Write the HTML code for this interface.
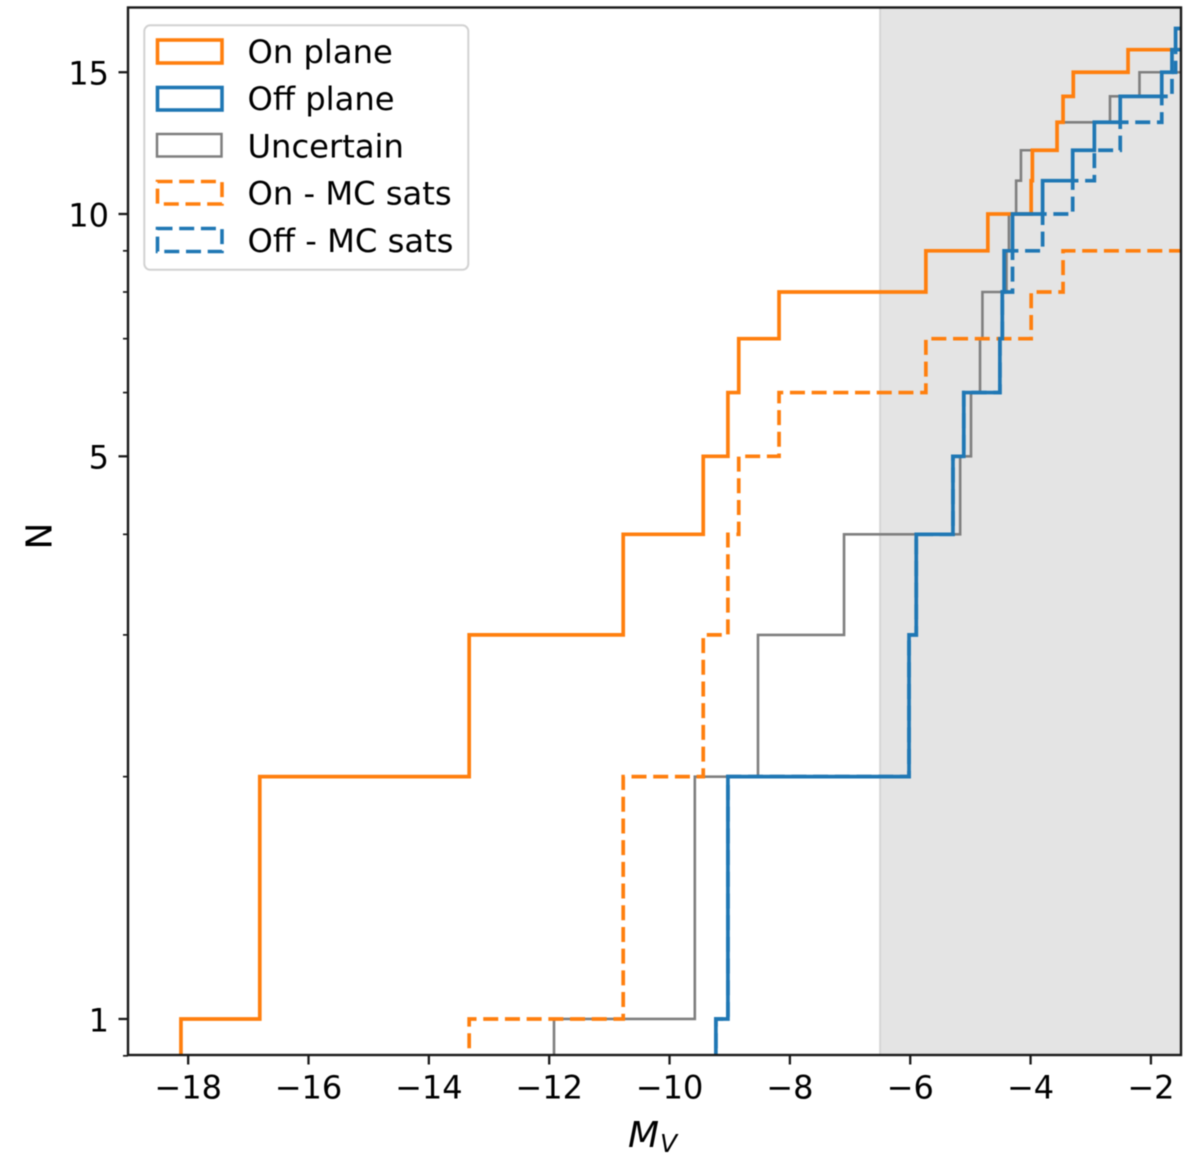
<!DOCTYPE html>
<html lang="en">
<head>
<meta charset="utf-8">
<title>Cumulative satellite luminosity function</title>
<style>
html,body{margin:0;padding:0;background:#fff;}
svg{display:block;font-family:"DejaVu Sans","Liberation Sans",sans-serif;filter:blur(0.4px);}
</style>
</head>
<body>
<svg id="chart" width="1200" height="1164" viewBox="0 0 1200 1164" xmlns="http://www.w3.org/2000/svg">
  <defs>
    <clipPath id="axes-clip"><rect x="128" y="7.5" width="1053" height="1047.5"></rect></clipPath>
  </defs>
  <rect x="0" y="0" width="1200" height="1164" fill="#ffffff"></rect>
  <g id="span-layer"></g>
  <g id="series-layer" clip-path="url(#axes-clip)"></g>
  <g id="tick-layer"></g>
  <rect x="128" y="7.5" width="1053" height="1047.5" fill="none" stroke="#1a1a1a" stroke-width="2.4"></rect>
  <text x="628" y="1147" font-size="36" font-style="italic" fill="#000">M</text>
  <text x="660" y="1152" font-size="25" font-style="italic" fill="#000">V</text>
  <text transform="translate(51.5,536) rotate(-90)" text-anchor="middle" font-size="36" fill="#000">N</text>
  <g>
    <rect x="144.3" y="25.3" width="324" height="244.5" rx="6" ry="6" fill="#ffffff" stroke="#d2d2d2" stroke-width="2"></rect>
    <g>
      <rect x="157.5" y="40" width="64.5" height="23" fill="none" stroke="#ff7f0e" stroke-width="3.6"></rect>
      <text x="247.5" y="63" font-size="32.2" fill="#000">On plane</text>
    </g>
    <g>
      <rect x="157.5" y="87.5" width="64.5" height="22.5" fill="none" stroke="#1f77b4" stroke-width="3.6"></rect>
      <text x="247.5" y="110" font-size="32.2" fill="#000">Off plane</text>
    </g>
    <g>
      <rect x="157" y="134" width="64.5" height="22.5" fill="none" stroke="#7f7f7f" stroke-width="2.5"></rect>
      <text x="247.5" y="157.5" font-size="32.2" fill="#000">Uncertain</text>
    </g>
    <g>
      <rect x="157.5" y="181.5" width="64.5" height="22.5" fill="none" stroke="#ff7f0e" stroke-width="3.6" stroke-dasharray="15 6.7"></rect>
      <text x="247.5" y="204.5" font-size="32.2" fill="#000">On - MC sats</text>
    </g>
    <g>
      <rect x="157.5" y="228.5" width="64.5" height="23" fill="none" stroke="#1f77b4" stroke-width="3.6" stroke-dasharray="15 6.7"></rect>
      <text x="247.5" y="252" font-size="32.2" fill="#000">Off - MC sats</text>
    </g>
  </g>
</svg>
<script>
// Absolute magnitudes at which each cumulative count rises by one
const onPlane = [-18.12,-16.81,-13.33,-10.77,-9.44,-9.03,-8.85,-8.18,-5.74,-4.71,-3.99,-3.97,-3.56,-3.46,-3.29,-2.38];
const offPlane = [-9.23,-9.03,-6.02,-5.90,-5.29,-5.11,-4.51,-4.47,-4.44,-4.30,-3.80,-3.30,-2.94,-2.51,-1.82,-1.65,-1.59];
const uncertain = [-11.92,-9.58,-8.53,-7.10,-5.17,-4.99,-4.84,-4.80,-4.40,-4.36,-4.24,-4.16,-3.56,-2.68,-2.19];
const onMcSats = [-13.33,-10.77,-9.44,-9.03,-8.85,-8.18,-5.74,-3.99,-3.46];
const offMcSats = [-9.23,-9.03,-6.02,-5.90,-5.29,-5.11,-4.51,-4.47,-4.30,-3.80,-3.30,-2.94,-2.51,-1.82,-1.65,-1.59];
const xTicks = [-18,-16,-14,-12,-10,-8,-6,-4,-2];
const yMajorTicks = [1,5,10,15];
const yMinorTicks = [0.9,2,3,4,6,7,8,9];
const xDomain = [-19,-1.5];
const yDomain = [0.9,18];
const completenessLimit = -6.5;

const NS = 'http://www.w3.org/2000/svg';
const plotLeft = 128, plotRight = 1181, plotTop = 7.5, plotBottom = 1055;
const scaleTop = 8.5, scaleBottom = 1055.8;

function xScale(v){
  return plotLeft + (v - xDomain[0]) / (xDomain[1] - xDomain[0]) * (plotRight - plotLeft);
}
function yScale(n){
  return scaleBottom - (Math.log10(n) - Math.log10(yDomain[0])) / (Math.log10(yDomain[1]) - Math.log10(yDomain[0])) * (scaleBottom - scaleTop);
}
function stepPath(values){
  let d = 'M' + xScale(values[0]).toFixed(2) + ' ' + plotBottom;
  values.forEach(function(v, i){
    d += 'V' + yScale(i + 1).toFixed(2);
    const next = i + 1 < values.length ? values[i + 1] : xDomain[1];
    d += 'H' + xScale(next).toFixed(2);
  });
  return d;
}

const spanLayer = document.getElementById('span-layer');
const seriesLayer = document.getElementById('series-layer');
const tickLayer = document.getElementById('tick-layer');

const span = document.createElementNS(NS, 'rect');


span.setAttribute('x', xScale(completenessLimit));
span.setAttribute('y', plotTop);
span.setAttribute('width', plotRight - xScale(completenessLimit));
span.setAttribute('height', plotBottom - plotTop);
span.setAttribute('fill', '#e4e4e4');
spanLayer.appendChild(span);

const spanEdge = document.createElementNS(NS, 'line');


spanEdge.setAttribute('x1', xScale(completenessLimit));
spanEdge.setAttribute('x2', xScale(completenessLimit));
spanEdge.setAttribute('y1', plotTop);
spanEdge.setAttribute('y2', plotBottom);
spanEdge.setAttribute('stroke', '#d6d6d6');
spanEdge.setAttribute('stroke-width', '2');
spanLayer.appendChild(spanEdge);

function addSeries(values, name, color, width, dashed){
  const p = document.createElementNS(NS, 'path');
  
  
  p.setAttribute('d', stepPath(values));
  p.setAttribute('fill', 'none');
  p.setAttribute('stroke', color);
  p.setAttribute('stroke-width', width);
  p.setAttribute('stroke-linejoin', 'miter');
  if (dashed) {
    p.setAttribute('stroke-dasharray', '15 6.7');
    p.setAttribute('stroke-dashoffset', '15');
  }
  seriesLayer.appendChild(p);
}
addSeries(uncertain, 'series-uncertain', '#7f7f7f', 2.6, false);
addSeries(onPlane, 'series-on-plane', '#ff7f0e', 3.7, false);
addSeries(onMcSats, 'series-on-mc-sats', '#ff7f0e', 3.7, true);
addSeries(offMcSats, 'series-off-mc-sats', '#1f77b4', 3.7, true);
addSeries(offPlane, 'series-off-plane', '#1f77b4', 3.7, false);

function fmtMinus(v){
  return String(v).replace('-', '\u2212');
}
xTicks.forEach(function(v){
  const t = document.createElementNS(NS, 'line');
  
  
  t.setAttribute('x1', xScale(v));
  t.setAttribute('x2', xScale(v));
  t.setAttribute('y1', plotBottom);
  t.setAttribute('y2', plotBottom + 9.5);
  t.setAttribute('stroke', '#1a1a1a');
  t.setAttribute('stroke-width', '2.3');
  tickLayer.appendChild(t);
  const l = document.createElementNS(NS, 'text');
  
  
  l.setAttribute('x', xScale(v));
  l.setAttribute('y', 1098.5);
  l.setAttribute('text-anchor', 'middle');
  l.setAttribute('font-size', '32');
  l.setAttribute('fill', '#000');
  l.textContent = fmtMinus(v);
  tickLayer.appendChild(l);
});
yMajorTicks.forEach(function(n){
  const t = document.createElementNS(NS, 'line');
  
  
  t.setAttribute('x1', plotLeft - 9.5);
  t.setAttribute('x2', plotLeft);
  t.setAttribute('y1', yScale(n));
  t.setAttribute('y2', yScale(n));
  t.setAttribute('stroke', '#1a1a1a');
  t.setAttribute('stroke-width', '2.3');
  tickLayer.appendChild(t);
  const l = document.createElementNS(NS, 'text');
  
  
  l.setAttribute('x', 109);
  l.setAttribute('y', yScale(n) + 12.3);
  l.setAttribute('text-anchor', 'end');
  l.setAttribute('font-size', '32');
  l.setAttribute('fill', '#000');
  l.textContent = String(n);
  tickLayer.appendChild(l);
});
yMinorTicks.forEach(function(n){
  const t = document.createElementNS(NS, 'line');
  
  
  t.setAttribute('x1', plotLeft - 5);
  t.setAttribute('x2', plotLeft);
  t.setAttribute('y1', yScale(n));
  t.setAttribute('y2', yScale(n));
  t.setAttribute('stroke', '#1a1a1a');
  t.setAttribute('stroke-width', '1.7');
  tickLayer.appendChild(t);
});
</script>
</body>
</html>
